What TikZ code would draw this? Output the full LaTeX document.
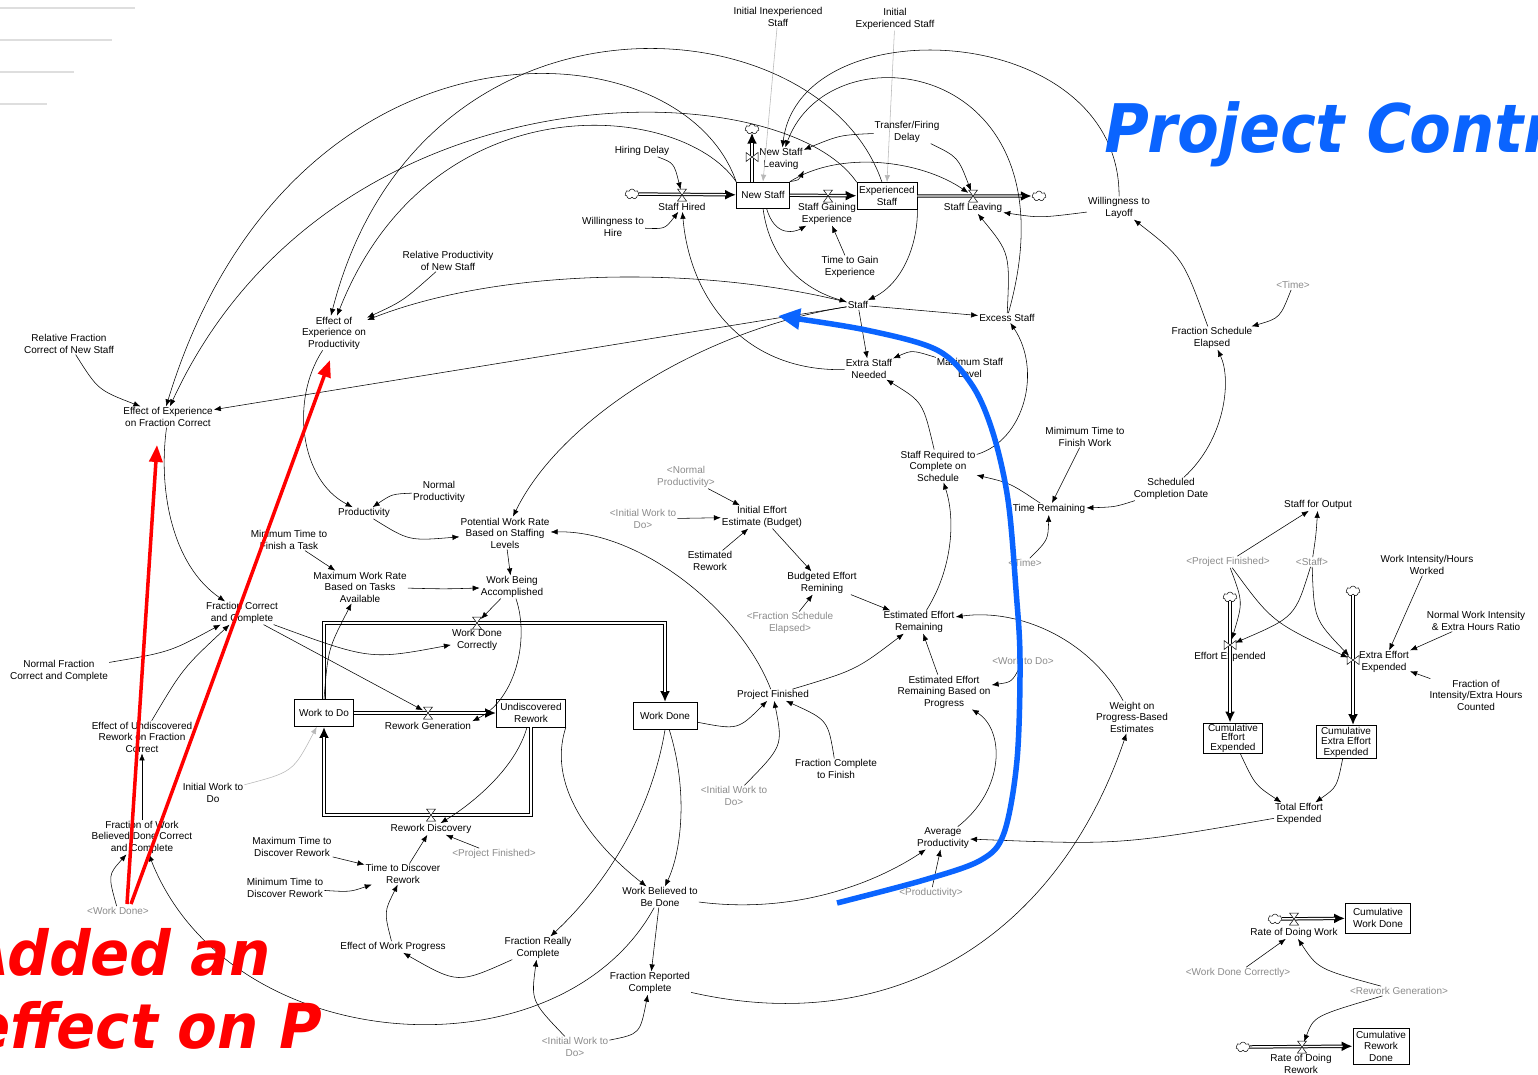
\documentclass[tikz,border=0pt]{standalone}
\usepackage{fontspec}
\setmainfont{Liberation Sans}
\newfontfamily\bigfont[FakeSlant=0.2]{DejaVu Sans}
\usetikzlibrary{arrows.meta,shapes.symbols,calc}
\definecolor{pcblue}{RGB}{10,100,255}
\newcommand\lbl{\fontsize{10}{11.5}\selectfont}
\newcommand\valveh[1]{\filldraw[fill=white,draw=black,line width=0.5pt,shift={(#1.center)}] (-4.5,-6) -- (4.5,-6) -- (-4.5,6) -- (4.5,6) -- cycle;}
\newcommand\valvev[1]{\filldraw[fill=white,draw=black,line width=0.5pt,shift={(#1.center)}] (-6,-4.5) -- (-6,4.5) -- (6,-4.5) -- (6,4.5) -- cycle;}
\newcommand\pipeline[1]{\draw[pipeo] #1; \draw[pipei] #1;}
\begin{document}
\begin{tikzpicture}[x=1pt,y=-1pt,
  lab/.style={align=center,font=\lbl,inner sep=1pt},
  shd/.style={lab,text=black!45},
  stock/.style={draw,line width=0.7pt,align=center,font=\lbl,inner sep=0pt},
  vnode/.style={circle,inner sep=0pt,minimum size=11pt},
  cloudn/.style={cloud,cloud puffs=7,aspect=1.3,draw,fill=white,inner sep=0pt,minimum width=14pt,minimum height=10pt,line width=0.5pt},
  arr/.style={-{Latex[length=7pt,width=5.5pt]},line width=0.55pt},
  garr/.style={arr,draw=black!28},
  pipeo/.style={line width=3.4pt,-{Latex[length=11pt,width=10pt]}},
  pipei/.style={white,line width=1.4pt,shorten >=10pt},
  redarr/.style={red,line width=3.5pt,-{Triangle[length=17pt,width=13pt]}},
  bluearr/.style={pcblue,line width=5.5pt,-{Triangle[length=22pt,width=20pt]}},
]
\useasboundingbox (0,0) rectangle (1538,1074);
\fill[white] (0,0) rectangle (1538,1074);
\clip (0,0) rectangle (1538,1074);

% faint lines top-left
\draw[black!13,line width=2pt] (0,8) -- (135,8);
\draw[black!13,line width=2pt] (0,40) -- (112,40);
\draw[black!13,line width=2pt] (0,72) -- (74,72);
\draw[black!13,line width=2pt] (0,104) -- (47,104);

% ---------- staffing sector ----------
\node[lab] (iis) at (778,17) {Initial Inexperienced\\Staff};
\node[lab] (ies) at (895,19) {Initial\\Experienced Staff};
\node[lab] (hd) at (642,151) {Hiring Delay};
\node[lab] (tfd) at (907,132) {Transfer/Firing\\Delay};
\node[stock,minimum width=53pt,minimum height=26pt] (ns) at (763,195) {New Staff};
\node[stock,minimum width=60pt,minimum height=27pt] (es) at (887,196) {Experienced\\Staff};
\node[cloudn] (cl1) at (632,194) {};
\node[cloudn] (cl2) at (1039,196) {};
\node[cloudn] (cl3) at (752,129) {};
\node[vnode] (shv) at (682,195) {};
\node[vnode] (sgev) at (828,196) {};
\node[vnode] (slv) at (973,196) {};
\node[vnode] (nslv) at (752,157) {};
\node[lab] (shL) at (682,207) {Staff Hired};
\node[lab] (sgeL) at (827,214) {Staff Gaining\\Experience};
\node[lab] (slL) at (973,208) {Staff Leaving};
\node[lab] (nslL) at (781,159) {New Staff\\Leaving};
\node[lab] (wth) at (613,227) {Willingness to\\Hire};
\node[lab] (tge) at (850,267) {Time to Gain\\Experience};
\node[lab] (wtl) at (1119,208) {Willingness to\\Layoff};
\node[lab] (staff) at (858,305) {Staff};
\node[lab] (excess) at (1007,318) {Excess Staff};
\node[lab] (esn) at (869,369) {Extra Staff\\Needed};
\node[lab] (msl) at (970,368) {Maximum Staff\\Level};
\node[lab] (rpns) at (448,261) {Relative Productivity\\of New Staff};
\node[lab] (ep) at (334,333) {Effect of\\Experience on\\Productivity};
\node[lab] (rfcns) at (69,344) {Relative Fraction\\Correct of New Staff};
\node[lab] (efc) at (168,417) {Effect of Experience\\on Fraction Correct};

% ---------- schedule sector ----------
\node[lab] (fse) at (1212,338) {Fraction Schedule\\Elapsed};
\node[shd] (timea) at (1293,285) {<Time>};
\node[lab] (mtfw) at (1085,437) {Mimimum Time to\\Finish Work};
\node[lab] (srcs) at (938,466) {Staff Required to\\Complete on\\Schedule};
\node[lab] (tr) at (1049,509) {Time Remaining};
\node[lab] (scd) at (1171,489) {Scheduled\\Completion Date};
\node[shd] (timeb) at (1025,563) {<Time>};
\node[shd] (npb) at (686,477) {<Normal\\Productivity>};
\node[shd] (iwda) at (643,519) {<Initial Work to\\Do>};
\node[lab] (iee) at (762,517) {Initial Effort\\Estimate (Budget)};
\node[lab] (er) at (710,561) {Estimated\\Rework};
\node[lab] (ber) at (822,583) {Budgeted Effort\\Remining};
\node[shd] (fseb) at (790,623) {<Fraction Schedule\\Elapsed>};
\node[lab] (eer) at (919,622) {Estimated Effort\\Remaining};
\node[shd] (wtdb) at (1023,661) {<Work to Do>};
\node[lab] (eerbp) at (944,692) {Estimated Effort\\Remaining Based on\\Progress};
\node[lab] (wpbe) at (1132,717) {Weight on\\Progress-Based\\Estimates};
\node[lab] (pf) at (773,695) {Project Finished};
\node[lab] (fctf) at (836,769) {Fraction Complete\\to Finish};
\node[shd] (iwdb) at (734,796) {<Initial Work to\\Do>};
\node[lab] (ap) at (943,838) {Average\\Productivity};
\node[shd] (prodb) at (931,893) {<Productivity>};

% ---------- work sector ----------
\node[lab] (prod) at (364,513) {Productivity};
\node[lab] (np) at (439,492) {Normal\\Productivity};
\node[lab] (pwr) at (505,533) {Potential Work Rate\\Based on Staffing\\Levels};
\node[lab] (mttf) at (289,540) {Minimum Time to\\Finish a Task};
\node[lab] (mwr) at (360,587) {Maximum Work Rate\\Based on Tasks\\Available};
\node[lab] (wba) at (512,587) {Work Being\\Accomplished};
\node[lab] (fcc) at (242,613) {Fraction Correct\\and Complete};
\node[lab] (nfcc) at (59,671) {Normal Fraction\\Correct and Complete};
\node[stock,minimum width=59pt,minimum height=27pt] (wtd) at (324,713) {Work to Do};
\node[stock,minimum width=69pt,minimum height=28pt] (ur) at (531,713) {Undiscovered\\Rework};
\node[stock,minimum width=64pt,minimum height=27pt] (wd) at (665,716) {Work Done};
\node[vnode] (wdcv) at (477,623) {};
\node[vnode] (rgv) at (428,713) {};
\node[vnode] (rdv) at (431,815) {};
\node[lab] (wdcL) at (477,640) {Work Done\\Correctly};
\node[lab] (rgL) at (428,726) {Rework Generation};
\node[lab] (rdL) at (431,829) {Rework Discovery};
\node[lab] (eurf) at (142,737) {Effect of Undiscovered\\Rework on Fraction\\Correct};
\node[lab] (iwd) at (213,793) {Initial Work to\\Do};
\node[lab] (fwb) at (142,837) {Fraction of Work\\Believed Done Correct\\and Complete};
\node[shd] (wdg) at (118,911) {<Work Done>};
\node[shd] (pfb) at (494,854) {<Project Finished>};
\node[lab] (mtdr) at (292,847) {Maximum Time to\\Discover Rework};
\node[lab] (ttdr) at (403,874) {Time to Discover\\Rework};
\node[lab] (mintdr) at (285,888) {Minimum Time to\\Discover Rework};
\node[lab] (ewp) at (393,947) {Effect of Work Progress};
\node[lab] (frc) at (538,948) {Fraction Really\\Complete};
\node[lab] (wbbd) at (660,897) {Work Believed to\\Be Done};
\node[lab] (frpc) at (650,983) {Fraction Reported\\Complete};
\node[shd] (iwdc) at (575,1047) {<Initial Work to\\Do>};

% ---------- effort / output sector ----------
\node[lab] (sfo) at (1318,505) {Staff for Output};
\node[shd] (pfc) at (1228,562) {<Project Finished>};
\node[shd] (staffb) at (1312,562) {<Staff>};
\node[lab] (wihw) at (1427,565) {Work Intensity/Hours\\Worked};
\node[lab] (nwi) at (1476,621) {Normal Work Intensity\\\& Extra Hours Ratio};
\node[lab] (fie) at (1476,695) {Fraction of\\Intensity/Extra Hours\\Counted};
\node[cloudn] (cl4) at (1230,597) {};
\node[cloudn] (cl5) at (1353,591) {};
\node[vnode] (eev) at (1230,645) {};
\node[vnode] (eeev) at (1353,660) {};
\node[lab] (eeL) at (1230,657) {Effort Expended};
\node[lab] (eeeL) at (1384,662) {Extra Effort\\Expended};
\node[stock,minimum width=59pt,minimum height=30pt,font=\fontsize{10}{9.5}\selectfont] (cee) at (1233,738) {Cumulative\\Effort\\Expended};
\node[stock,minimum width=60pt,minimum height=33pt,font=\fontsize{10}{10.5}\selectfont] (ceee) at (1346,742) {Cumulative\\Extra Effort\\Expended};
\node[lab] (tee) at (1299,814) {Total Effort\\Expended};
\node[cloudn] (cl6) at (1275,919) {};
\node[vnode] (rdwv) at (1294,919) {};
\node[lab] (rdwL) at (1294,933) {Rate of Doing Work};
\node[stock,minimum width=65pt,minimum height=30pt] (cwd) at (1378,918) {Cumulative\\Work Done};
\node[shd] (wdcb) at (1238,973) {<Work Done Correctly>};
\node[shd] (rgb) at (1399,991) {<Rework Generation>};
\node[cloudn] (cl7) at (1243,1047) {};
\node[vnode] (rdrv) at (1302,1047) {};
\node[lab] (rdrL) at (1301,1064) {Rate of Doing\\Rework};
\node[stock,minimum width=56pt,minimum height=36pt] (crd) at (1381,1046) {Cumulative\\Rework\\Done};

% ---------- pipes ----------
\pipeline{(cl1) -- (ns)}
\pipeline{(ns) -- (es)}
\pipeline{(es) -- (cl2)}
\pipeline{(cl3 |- ns.north) -- (cl3)}
\pipeline{(wtd) -- (ur)}
\pipeline{(wtd.north) |- (wdcv.center) -| (wd.north)}
\pipeline{(ur.south) |- (rdv.center) -| (wtd.south)}
\pipeline{(cl4) -- (cl4 |- cee.north)}
\pipeline{(cl5) -- (cl5 |- ceee.north)}
\pipeline{(cl6) -- (cwd)}
\pipeline{(cl7) -- (crd)}
\valveh{shv} \valveh{sgev} \valveh{slv} \valvev{nslv}
\valveh{wdcv} \valveh{rgv} \valveh{rdv}
\valvev{eev} \valvev{eeev} \valveh{rdwv} \valveh{rdrv}

% ---------- connectors: staffing ----------
\draw[arr] (hd) .. controls (674,163) .. (shv);
\draw[arr] (wth) .. controls (665,229) .. (shL);
\draw[arr] (esn) .. controls (745,372) and (690,300) .. (shL);
\draw[garr] (iis) -- (ns.north);
\draw[garr] (ies) -- (es.north);
\draw[arr] (tfd) .. controls (840,135) .. (nslL);
\draw[arr] (tfd) .. controls (958,157) .. (slv);
\draw[arr] (ns.north east) .. controls (799,180) .. (nslL.south east);
\draw[arr] (ns.north east) .. controls (840,150) and (920,160) .. (slv);
\draw[arr] (excess) .. controls (1080,60) and (830,25) .. (nslL);
\draw[arr] (wtl) .. controls (1120,20) and (800,5) .. (nslL);
\draw[arr] (fse) .. controls (1183,258) .. (wtl);
\draw[arr] (wtl) .. controls (1040,218) .. (slL);
\draw[arr] (excess) .. controls (1010,253) .. (slL);
\draw[arr] (staff) -- (excess);
\draw[arr] (staff) -- (esn);
\draw[arr] (msl) .. controls (912,350) .. (esn);
\draw[arr] (srcs) .. controls (923,402) .. (esn);
\draw[arr] (srcs) .. controls (1025,440) and (1042,370) .. (excess);
\draw[arr] (ns.south) .. controls (770,262) and (805,290) .. (staff);
\draw[arr] (es.south east) .. controls (918,240) and (905,282) .. (staff);
\draw[arr] (ns.-75) .. controls (775,238) and (795,232) .. (sgeL);
\draw[arr] (tge) -- (sgeL);
\draw[arr] (ns.north west) .. controls (680,20) and (290,0) .. (efc.100);
\draw[arr] (es.north west) .. controls (780,70) and (330,60) .. (efc.80);
\draw[arr] (es.110) .. controls (820,0) and (420,-30) .. (ep.100);
\draw[arr] (ns.north west) .. controls (680,100) and (430,80) .. (ep.80);
\draw[arr] (staff) .. controls (700,265) and (500,268) .. (ep);
\draw[arr] (staff) -- (efc);
\draw[arr] (staff) .. controls (700,330) and (560,420) .. (pwr);
\draw[arr] (rpns) .. controls (403,301) .. (ep);
\draw[arr] (rfcns) .. controls (98,390) .. (efc);

% ---------- connectors: work ----------
\draw[arr] (efc) .. controls (158,490) and (172,565) .. (fcc);
\draw[arr] (nfcc) .. controls (170,652) .. (fcc);
\draw[arr] (eurf) .. controls (183,668) .. (fcc);
\draw[arr] (fwb) -- (eurf);
\draw[arr] (wdg) .. controls (108,875) .. (fwb);
\draw[arr] (wbbd) .. controls (560,1080) and (230,1060) .. (fwb);
\draw[arr] (ep) .. controls (290,400) and (300,480) .. (prod);
\draw[arr] (np) .. controls (392,494) .. (prod);
\draw[arr] (prod) .. controls (409,541) .. (pwr);
\draw[arr] (mttf) -- (mwr);
\draw[arr] (wtd.north) .. controls (328,649) .. (mwr);
\draw[arr] (mwr) .. controls (445,589) .. (wba);
\draw[arr] (pwr) -- (wba);
\draw[arr] (wba) -- (wdcv);
\draw[arr] (wba) .. controls (530,640) and (515,700) .. (rgL.north east);
\draw[arr] (fcc) .. controls (370,660) .. (wdcL);
\draw[arr] (fcc) -- (rgv);
\draw[garr] (iwd) .. controls (293,772) .. (wtd);
\draw[arr] (ur) .. controls (515,770) and (470,805) .. (rdL);
\draw[arr] (ur.south east) .. controls (545,790) and (600,850) .. (wbbd);
\draw[arr] (ttdr) -- (rdL);
\draw[arr] (pfb) -- (rdL);
\draw[arr] (mtdr) -- (ttdr);
\draw[arr] (mintdr) .. controls (350,892) .. (ttdr);
\draw[arr] (ewp) .. controls (384,912) .. (ttdr);
\draw[arr] (frc) .. controls (458,984) .. (ewp);
\draw[arr] (wd.south) .. controls (650,820) and (600,890) .. (frc);
\draw[arr] (iwdc) .. controls (531,1001) .. (frc);
\draw[arr] (wd) .. controls (688,790) and (682,850) .. (wbbd);
\draw[arr] (wbbd) -- (frpc);
\draw[arr] (iwdc) .. controls (640,1034) .. (frpc);
\draw[arr] (frpc) .. controls (900,1040) and (1060,930) .. (wpbe);
\draw[arr] (wbbd) .. controls (800,915) and (880,880) .. (ap);
\draw[arr] (prodb) -- (ap);
\draw[arr] (tee) .. controls (1120,845) .. (ap);
\draw[arr] (ap) .. controls (1005,790) and (1005,730) .. (eerbp);
\draw[arr] (wtdb) .. controls (1012,682) .. (eerbp);
\draw[arr] (eerbp) -- (eer);
\draw[arr] (wpbe) .. controls (1090,640) and (1020,608) .. (eer);
\draw[arr] (ber) -- (eer);
\draw[arr] (pf) .. controls (856,670) .. (eer);
\draw[arr] (iee) -- (ber);
\draw[arr] (fseb) -- (ber);
\draw[arr] (er) -- (iee);
\draw[arr] (iwda) -- (iee);
\draw[arr] (npb) -- (iee);
\draw[arr] (eer) .. controls (952,570) and (956,520) .. (srcs);
\draw[arr] (tr) .. controls (1010,483) .. (srcs);
\draw[arr] (mtfw) -- (tr);
\draw[arr] (timeb) .. controls (1048,540) .. (tr);
\draw[arr] (scd) .. controls (1115,507) .. (tr);
\draw[arr] (scd) .. controls (1225,440) and (1232,380) .. (fse);
\draw[arr] (timea) .. controls (1280,318) .. (fse);
\draw[arr] (wd) .. controls (738,730) .. (pf);
\draw[arr] (iwdb) .. controls (783,746) .. (pf);
\draw[arr] (fctf) .. controls (828,720) .. (pf);
\draw[arr] (pf) .. controls (740,610) and (640,530) .. (pwr);

% ---------- connectors: effort ----------
\draw[arr] (pfc) -- (sfo);
\draw[arr] (staffb) .. controls (1316,535) .. (sfo);
\draw[arr] (pfc) .. controls (1243,602) .. (eev);
\draw[arr] (staffb) .. controls (1295,617) .. (eev);
\draw[arr] (pfc) .. controls (1272,622) .. (eeev);
\draw[arr] (staffb) .. controls (1314,619) .. (eeev);
\draw[arr] (wihw) -- (eeeL);
\draw[arr] (nwi) -- (eeeL);
\draw[arr] (fie) -- (eeeL);
\draw[arr] (cee) .. controls (1255,785) .. (tee);
\draw[arr] (ceee) .. controls (1337,787) .. (tee);
\draw[arr] (wdcb) -- (rdwL);
\draw[arr] (rgb) .. controls (1318,969) .. (rdwL);
\draw[arr] (rgb) .. controls (1314,1016) .. (rdrv);

% ---------- annotations ----------
\node[anchor=base west,inner sep=0pt,text=pcblue,font=\bigfont\bfseries\fontsize{67}{70}\selectfont] (title) at (1100,152) {\scalebox{0.9}[1]{Project Control}};
\node[anchor=base east,inner sep=0pt,text=red,font=\bigfont\bfseries\fontsize{62}{64}\selectfont] (annA) at (268,975) {\scalebox{0.93}[1]{Added an}};
\node[anchor=base east,inner sep=0pt,text=red,font=\bigfont\bfseries\fontsize{62}{64}\selectfont] (annB) at (318,1048) {\scalebox{0.93}[1]{effect on P}};
\coordinate (ra) at (127,904);
\coordinate (rb) at (131,904);
\coordinate (rta) at (157,445);
\coordinate (rtb) at (330,360);
\draw[redarr] (ra) -- (rta);
\draw[redarr] (rb) -- (rtb);
\coordinate (bs) at (837,903);
\coordinate (bt) at (778,316);
\draw[bluearr] plot[smooth,tension=0.55] coordinates {(bs) (924,880) (981,860) (1004,833) (1017,760) (1020,660) (1016,590) (1008,500) (993,433) (972,385) (937,350) (866,330) (bt)};
\end{tikzpicture}
\end{document}
